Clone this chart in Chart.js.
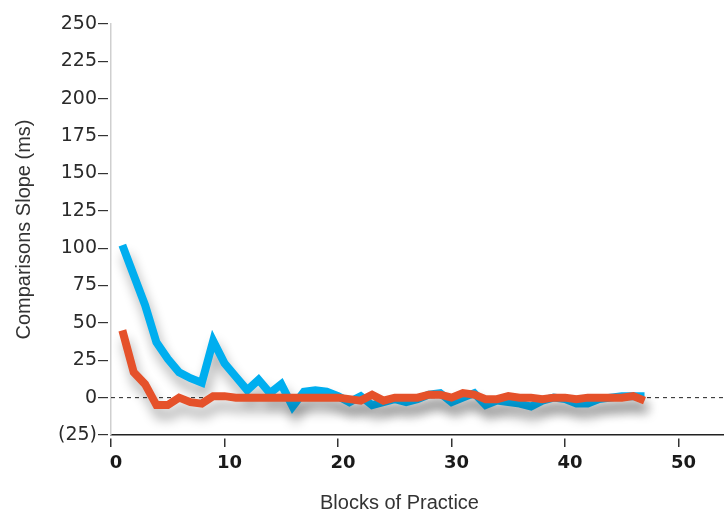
<!DOCTYPE html>
<html>
<head>
<meta charset="utf-8">
<script src="https://cdn.jsdelivr.net/npm/chart.js@4"></script>
<style>
  html, body { margin: 0; padding: 0; background: #fff; }
  #wrap { width: 724px; height: 513px; }
</style>
</head>
<body>
<div id="wrap"><canvas id="chart"></canvas></div>
<script>
const blocks = [];
for (let i = 1; i <= 47; i++) blocks.push(i);

const blueSlope = [102, 82, 62, 37, 26, 17, 13, 10, 38, 23, 14, 5, 12, 3, 9, -6, 4, 5, 4, 1,
  -3, 1, -5, -3, -1, -3, -1, 2, 3, -3, 0, 3, -5, -2, -3, -4, -6, -2, 0, -1,
  -4, -4, -1, 0, 1, 1, 1];
const orangeSlope = [45, 17, 9, -5, -5, 0, -3, -4, 1, 1, 0, 0, 0, 0, 0, 0, 0, 0, 0, 0,
  -1, -2, 2, -2, 0, 0, 0, 2, 2, 0, 3, 2, -1, -1, 1, 0, 0, -1, 0, 0,
  -1, 0, 0, 0, 0, 1, -2];
const zeroLine = [0, 54];
const xTitle = 'Blocks of Practice';

const toPoints = vals => vals.map((v, i) => ({ x: blocks[i], y: v }));

// drop shadow under the two thick lines
const shadowPlugin = {
    id: 'shadow',
    beforeDatasetDraw(chart, args) {
        if (chart.data.datasets[args.index].shadow) {
            const ctx = chart.ctx;
            ctx.save();
            ctx.shadowColor = 'rgba(0,0,0,0.33)';
            ctx.shadowBlur = 12;
            ctx.shadowOffsetX = 3;
            ctx.shadowOffsetY = 10;
        }
    },
    afterDatasetDraw(chart, args) {
        if (chart.data.datasets[args.index].shadow) {
            chart.ctx.restore();
        }
    }
};

// x title sits a bit left of the plot centre in the original
const xTitlePlugin = {
    id: 'xTitle',
    afterDraw(chart) {
        const ctx = chart.ctx;
        const area = chart.chartArea;
        ctx.save();
        ctx.font = '20px "Liberation Sans", Arial, sans-serif';
        ctx.fillStyle = '#333';
        ctx.textAlign = 'center';
        ctx.textBaseline = 'middle';
        ctx.fillText(xTitle, (area.left + area.right) / 2 - 18, 503);
        ctx.restore();
    }
};

new Chart(document.getElementById('chart'), {
    type: 'line',
    data: {
        datasets: [
            {
                data: toPoints(orangeSlope),
                borderColor: '#e5512a',
                borderWidth: 8,
                pointRadius: 0,
                borderJoinStyle: 'miter',
                tension: 0,
                order: 1,
                shadow: true
            },
            {
                data: toPoints(blueSlope),
                borderColor: '#00aeef',
                borderWidth: 8,
                pointRadius: 0,
                borderJoinStyle: 'miter',
                tension: 0,
                order: 2,
                shadow: true
            },
            {
                data: zeroLine.map(x => ({ x: x, y: 0 })),
                borderColor: '#222',
                borderWidth: 1,
                borderDash: [4, 4],
                pointRadius: 0,
                order: 3
            }
        ]
    },
    options: {
        responsive: true,
        maintainAspectRatio: false,
        animation: false,
        layout: { padding: { top: 24, right: 0, bottom: 0, left: 0 } },
        plugins: {
            legend: { display: false },
            tooltip: { enabled: false }
        },
        scales: {
            x: {
                type: 'linear',
                min: 0,
                max: 54,
                afterFit(scale) { scale.height = 78; },
                ticks: {
                    stepSize: 10,
                    includeBounds: false,
                    padding: 6,
                    labelOffset: 5,
                    color: '#1a1a1a',
                    font: { family: 'DejaVu Sans', size: 18, weight: 'bold' }
                },
                grid: {
                    drawOnChartArea: false,
                    drawTicks: true,
                    tickLength: 12,
                    tickBorderDash: [0, 3, 9, 100],
                    color: '#333',
                    lineWidth: 1.5
                },
                border: { display: true, color: '#222', width: 1.5 }
            },
            y: {
                min: -25,
                max: 250,
                afterFit(scale) { scale.width = 111; },
                ticks: {
                    stepSize: 25,
                    padding: 1,
                    color: '#2a2a2a',
                    font: { family: 'DejaVu Sans', size: 19 },
                    callback: v => v < 0 ? '(' + Math.abs(v) + ')' : v
                },
                grid: {
                    drawOnChartArea: false,
                    drawTicks: true,
                    tickLength: 13,
                    tickBorderDash: [10, 100],
                    color: '#333',
                    lineWidth: 1.2
                },
                border: { display: true, color: '#cfcfcf', width: 1.5 },
                title: {
                    display: true,
                    text: 'Comparisons Slope (ms)',
                    color: '#333',
                    padding: { top: 12, bottom: 0 },
                    font: { family: 'Liberation Sans', size: 20 }
                }
            }
        }
    },
    plugins: [shadowPlugin, xTitlePlugin]
});
</script>
</body>
</html>
